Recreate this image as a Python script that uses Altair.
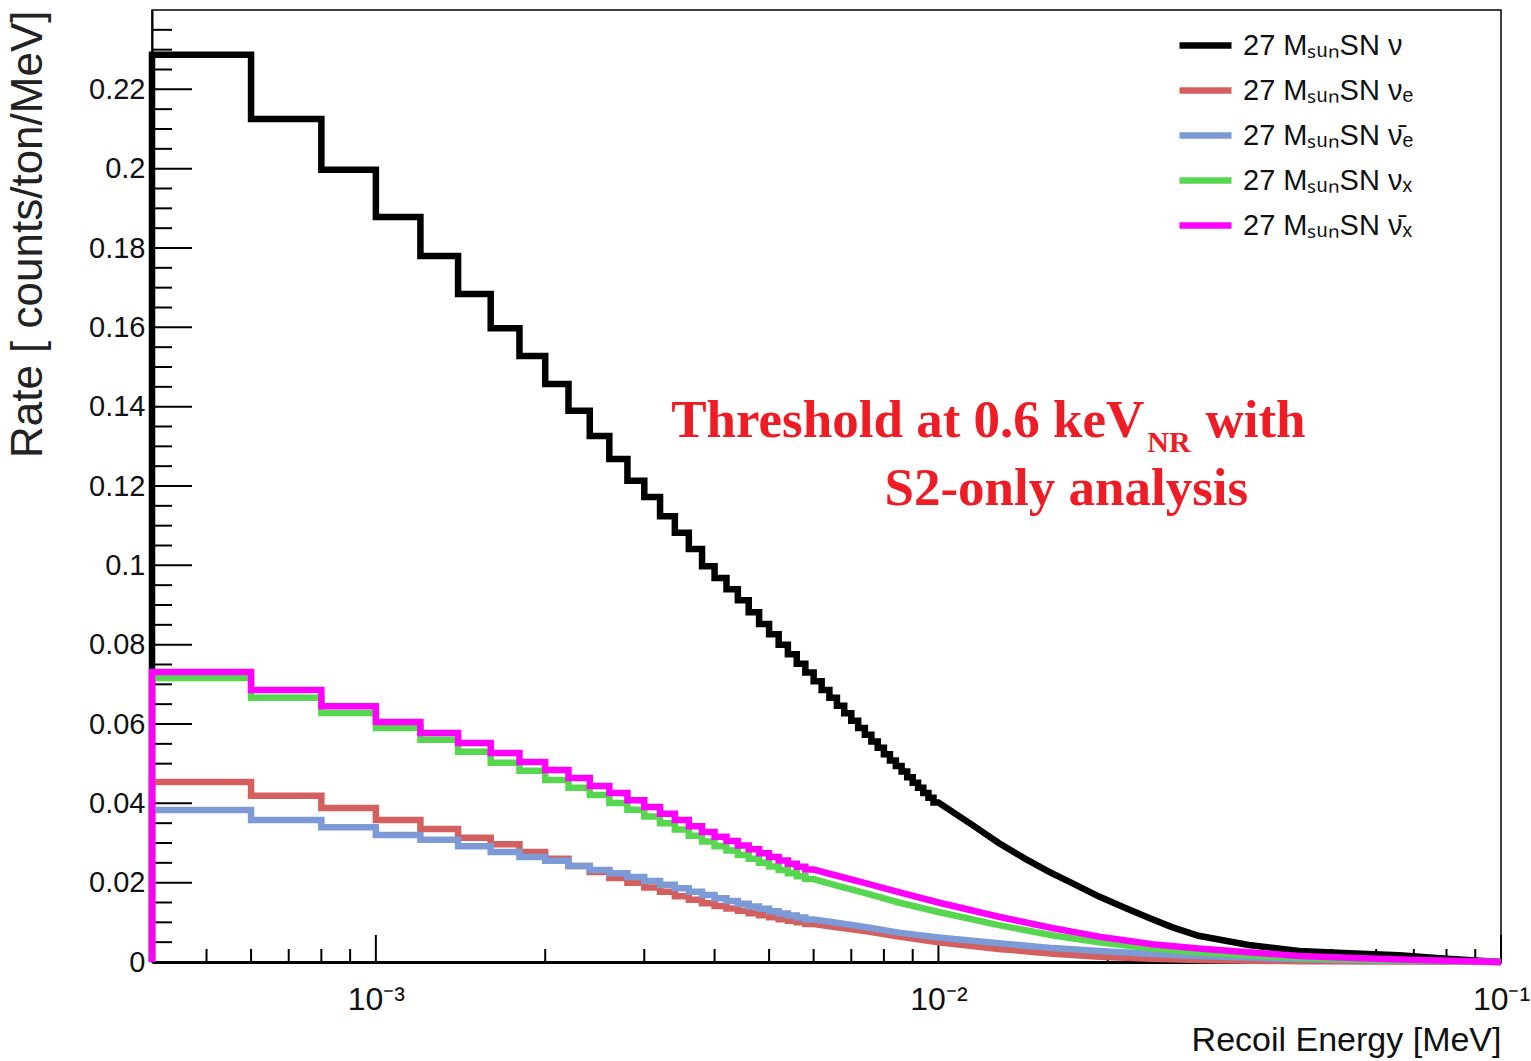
import altair as alt
import pandas as pd

# ---------------- data ----------------
# step histogram: bins of 0.2 keV starting at 0.4 keV (values in MeV)
FIRST_EDGE = 0.0004
BIN_WIDTH = 0.0002

SERIES = [
    "27 MₛᵤₙSN ν",
    "27 MₛᵤₙSN νₑ",
    "27 MₛᵤₙSN ν̄ₑ",
    "27 MₛᵤₙSN νₓ",
    "27 MₛᵤₙSN ν̄ₓ",
]
COLORS = ["#000000", "#d35f5f", "#7b9ad6", "#57d64f", "#ff00ff"]

# all-flavour (black) bin contents, 0.4 keV .. 10 keV
NU_STEPS = [0.2287, 0.2125, 0.1997, 0.1878, 0.1780, 0.1684, 0.1598, 0.1528,
            0.1457, 0.1390, 0.1326, 0.1268, 0.1213, 0.1172, 0.1124, 0.1082,
            0.1041, 0.0998, 0.0968, 0.0940, 0.0912, 0.0882, 0.0852, 0.0826,
            0.0800, 0.0776, 0.0752, 0.0730, 0.0708, 0.0686, 0.0666, 0.0646,
            0.0627, 0.0608, 0.0590, 0.0573, 0.0556, 0.0540, 0.0524, 0.0508,
            0.0494, 0.0480, 0.0466, 0.0452, 0.0439, 0.0426, 0.0414, 0.0402]
NU_TAIL_E = [0.0115, 0.0128, 0.0142, 0.0157, 0.0175, 0.0193, 0.0215, 0.0237, 0.026,
             0.029, 0.0356, 0.0438, 0.0537, 0.066, 0.08, 0.1]
NU_TAIL_V = [0.0345, 0.0300, 0.0262, 0.0228, 0.0195, 0.0165, 0.0136, 0.0111, 0.0088,
             0.0066, 0.0043, 0.0028, 0.0022, 0.0017, 0.0008, 0.0]

# flavour components, 0.4 keV .. 6 keV
NUE_STEPS = [0.0454, 0.0419, 0.0388, 0.0358, 0.0335, 0.0313, 0.0297, 0.0277, 0.0260,
             0.0242, 0.0227, 0.0212, 0.0200, 0.0188, 0.0177, 0.0166, 0.0157, 0.0148,
             0.0141, 0.0135, 0.0129, 0.0123, 0.0118, 0.0113, 0.0108, 0.0104, 0.0100, 0.0096]
NUEBAR_STEPS = [0.0383, 0.0358, 0.0340, 0.0320, 0.0308, 0.0292, 0.0277, 0.0265, 0.0255,
                0.0242, 0.0232, 0.0224, 0.0214, 0.0204, 0.0195, 0.0186, 0.0177, 0.0169,
                0.0161, 0.0154, 0.0147, 0.0140, 0.0134, 0.0128, 0.0122, 0.0117, 0.0112, 0.0107]
NUX_STEPS = [0.0716, 0.0666, 0.0628, 0.0590, 0.0560, 0.0530, 0.0502, 0.0482, 0.0459,
             0.0439, 0.0421, 0.0401, 0.0384, 0.0367, 0.0350, 0.0334, 0.0318, 0.0304,
             0.0292, 0.0281, 0.0270, 0.0260, 0.0250, 0.0241, 0.0232, 0.0224, 0.0216, 0.0209]
NUXBAR_STEPS = [0.0731, 0.0686, 0.0645, 0.0605, 0.0577, 0.0552, 0.0527, 0.0504, 0.0484,
                0.0464, 0.0444, 0.0426, 0.0408, 0.0391, 0.0374, 0.0358, 0.0342, 0.0328,
                0.0316, 0.0305, 0.0294, 0.0284, 0.0274, 0.0265, 0.0256, 0.0248, 0.0240, 0.0233]

FLAV_TAIL_E = [0.0065, 0.0075, 0.0085, 0.01, 0.0128, 0.016, 0.0193, 0.024, 0.029, 0.0438, 0.066, 0.1]
NUE_TAIL = [0.0089, 0.0077, 0.0064, 0.0050, 0.0033, 0.0021, 0.0013, 0.0008, 0.0005, 0.0002, 0.0001, 0.0]
NUEBAR_TAIL = [0.0100, 0.0087, 0.0074, 0.0062, 0.0047, 0.0035, 0.0028, 0.0020, 0.0015, 0.0007, 0.0003, 0.0]
NUX_TAIL = [0.0195, 0.0172, 0.0150, 0.0126, 0.0093, 0.0067, 0.0050, 0.0034, 0.0024, 0.0010, 0.0004, 0.0]
NUXBAR_TAIL = [0.0220, 0.0197, 0.0176, 0.0150, 0.0114, 0.0085, 0.0064, 0.0045, 0.0034, 0.0015, 0.0006, 0.0]

X_TICK_VALUES = [0.001, 0.01, 0.1]
X_TICK_LABELS = ["10⁻³", "10⁻²", "10⁻¹"]
X_MINOR = [0.0004, 0.0005, 0.0006, 0.0007, 0.0008, 0.0009,
           0.002, 0.003, 0.004, 0.005, 0.006, 0.007, 0.008, 0.009,
           0.02, 0.03, 0.04, 0.05, 0.06, 0.07, 0.08, 0.09]
Y_TICK_VALUES = [0, 0.02, 0.04, 0.06, 0.08, 0.1, 0.12, 0.14, 0.16, 0.18, 0.2, 0.22]
Y_MINOR = [round(0.005 * i, 3) for i in range(49) if i % 4 != 0]

# ---------------- build tables ----------------
def path(name, steps, tail_e, tail_v):
    rows = [(FIRST_EDGE, 0.0)]
    for i, v in enumerate(steps):
        lo = FIRST_EDGE + i * BIN_WIDTH
        rows.append((lo, v))
        rows.append((lo + BIN_WIDTH, v))
    rows += list(zip(tail_e, tail_v))
    return pd.DataFrame({"E": [r[0] for r in rows], "rate": [r[1] for r in rows],
                         "series": name, "idx": range(len(rows))})

df = pd.concat([
    path(SERIES[0], NU_STEPS, NU_TAIL_E, NU_TAIL_V),
    path(SERIES[1], NUE_STEPS, FLAV_TAIL_E, NUE_TAIL),
    path(SERIES[2], NUEBAR_STEPS, FLAV_TAIL_E, NUEBAR_TAIL),
    path(SERIES[3], NUX_STEPS, FLAV_TAIL_E, NUX_TAIL),
    path(SERIES[4], NUXBAR_STEPS, FLAV_TAIL_E, NUXBAR_TAIL),
], ignore_index=True)

W, H = 1349, 952
xscale = alt.Scale(type="log", domain=[0.0004, 0.1], nice=False)
yscale = alt.Scale(domain=[0, 0.24], nice=False)

label_expr = " : ".join(
    f"datum.value == {v} ? '{l}'" for v, l in zip(X_TICK_VALUES, X_TICK_LABELS)
) + " : ''"

lines = alt.Chart(df).mark_line(strokeWidth=6.5, strokeCap="butt", strokeJoin="miter").encode(
    x=alt.X("E:Q", scale=xscale,
            axis=alt.Axis(values=X_TICK_VALUES, labelExpr=label_expr, ticks=False,
                          domain=True, domainColor="black", domainWidth=3,
                          labelFont="Liberation Sans Narrow, Liberation Sans",
                          labelFontSize=32, labelPadding=22, labelColor="#111",
                          labelFlush=False,
                          title="Recoil Energy [MeV]", titleFont="Liberation Sans Narrow, Liberation Sans",
                          titleFontSize=34, titleFontWeight="normal", titleColor="#111",
                          titleX=W, titleY=88, titleAlign="right", titleBaseline="alphabetic")),
    y=alt.Y("rate:Q", scale=yscale,
            axis=alt.Axis(values=Y_TICK_VALUES, format="~g", ticks=False, domain=True,
                          domainColor="black", domainWidth=2,
                          labelFont="Liberation Sans", labelFontSize=29, labelPadding=7,
                          labelColor="#111",
                          title="Rate [ counts/ton/MeV]", titleFont="Liberation Sans",
                          titleFontSize=44, titleFontWeight="normal", titleColor="#222",
                          titleX=-124, titleY=0, titleAngle=270, titleAlign="right",
                          titleBaseline="middle")),
    color=alt.Color("series:N", scale=alt.Scale(domain=SERIES, range=COLORS),
                    sort=SERIES,
                    legend=alt.Legend(title=None, orient="none", legendX=1024, legendY=6,
                                      symbolType="stroke", symbolSize=2704,
                                      symbolStrokeWidth=6.5, labelFontSize=29,
                                      labelFont="Liberation Sans Narrow, Liberation Sans",
                                      labelColor="#111", labelOffset=8, rowPadding=-2,
                                      padding=0, labelLimit=400)),
    order="idx:Q",
    detail="series:N",
)

# inward ticks (ROOT style)
xmaj = alt.Chart(pd.DataFrame({"E": X_TICK_VALUES})).mark_rule(color="black", strokeWidth=2).encode(
    x=alt.X("E:Q", scale=xscale), y=alt.value(H), y2=alt.value(H - 27))
xmin = alt.Chart(pd.DataFrame({"E": X_MINOR})).mark_rule(color="black", strokeWidth=2).encode(
    x=alt.X("E:Q", scale=xscale), y=alt.value(H), y2=alt.value(H - 13))
ymaj = alt.Chart(pd.DataFrame({"r": Y_TICK_VALUES})).mark_rule(color="black", strokeWidth=2).encode(
    y=alt.Y("r:Q", scale=yscale), x=alt.value(0), x2=alt.value(40))
ymin = alt.Chart(pd.DataFrame({"r": Y_MINOR})).mark_rule(color="black", strokeWidth=2).encode(
    y=alt.Y("r:Q", scale=yscale), x=alt.value(0), x2=alt.value(20))

# annotation text
ANNOT = pd.DataFrame({
    "E": [0.02323, 0.02351, 0.02982, 0.01688],
    "rate": [0.1324, 0.1286, 0.1324, 0.1152],
    "txt": ["Threshold at 0.6 keV", "NR", "with", "S2-only analysis"],
    "size": [53, 30, 53, 53],
    "align": ["right", "left", "left", "center"],
})
texts = []
for _, r in ANNOT.iterrows():
    texts.append(alt.Chart(pd.DataFrame([r])).mark_text(
        font="Liberation Serif", fontWeight="bold", fontSize=int(r["size"]),
        color="#ee1c25", align=r["align"], baseline="alphabetic").encode(
        x=alt.X("E:Q", scale=xscale), y=alt.Y("rate:Q", scale=yscale), text="txt:N"))

chart = alt.layer(xmaj, xmin, ymaj, ymin, lines, *texts).properties(
    width=W, height=H,
    autosize=alt.AutoSizeParams(type="none"),
    padding={"left": 152, "top": 10, "right": 30, "bottom": 99},
).configure_view(stroke="black", strokeWidth=1.5).configure_axis(grid=False)

chart.save("out.html", embed_options={"renderer": "svg", "actions": False})
